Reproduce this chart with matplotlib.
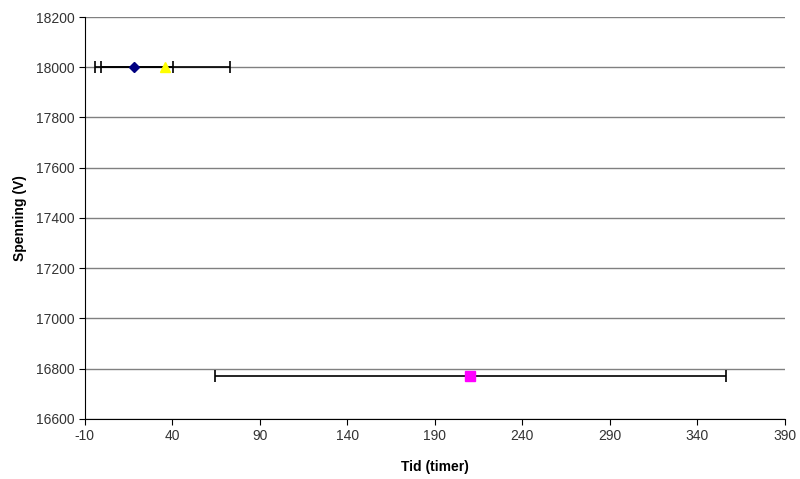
import matplotlib.pyplot as plt
import numpy as np

plt.rcParams['font.family'] = ['Liberation Sans', 'DejaVu Sans']
plt.rcParams['axes.unicode_minus'] = False

# data
tid = [18.3, 36.1, 210.3]
spenning = [18000, 18000, 16770]
xerr = [22.2, 36.8, 146.0]
markers = ['D', '^', 's']
colors = ['#000080', '#FFFF00', '#FF00FF']

fig = plt.figure(figsize=(8, 4.79), dpi=100)
ax = fig.add_axes([0.106, 0.1253, 0.875, 0.8392])

for x, y, e, m, c in zip(tid, spenning, xerr, markers, colors):
    ax.errorbar(x, y, xerr=e, fmt='none', ecolor='black', elinewidth=1.2,
                capsize=4, capthick=1.2, zorder=3)
    ax.plot(x, y, marker=m, color=c, markersize=6.5 if m != 'D' else 5.5,
            linestyle='none', zorder=4)

ax.set_xlim(-10, 390)
ax.set_ylim(16600, 18200)
ax.set_xticks(np.arange(-10, 391, 50))
ax.set_yticks(np.arange(16600, 18201, 200))
ax.yaxis.grid(True, color='#808080', linewidth=1)
ax.set_axisbelow(True)
for s in ['top', 'right']:
    ax.spines[s].set_visible(False)
for s in ['left', 'bottom']:
    ax.spines[s].set_color('black')
ax.tick_params(direction='out', length=4, labelsize=10, colors='black',
               labelcolor='#333333')

ax.set_xlabel('Tid (timer)', fontsize=10, fontweight='bold', labelpad=12)
ax.set_ylabel('Spenning (V)', fontsize=10, fontweight='bold', labelpad=6)

fig.savefig('out.png', dpi=100)
